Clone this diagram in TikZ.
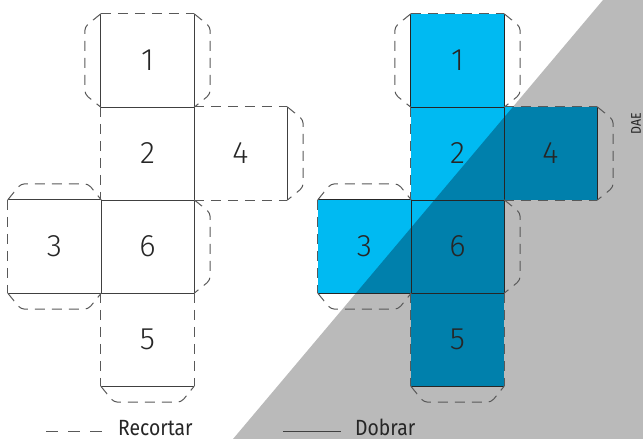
\documentclass[tikz,border=0pt]{standalone}
\usepackage{fontspec}
\setmainfont{Fira Sans}
\newfontfamily\digitfont{Fira Sans Light}
\newfontfamily\condfont{Fira Sans}[FakeStretch=0.88]
\usetikzlibrary{calc}
\definecolor{lblue}{RGB}{0,186,242}
\definecolor{dblue}{RGB}{0,128,172}
\definecolor{bggray}{RGB}{186,186,186}
\pgfdeclarelayer{bg}
\pgfsetlayers{bg,main}
\tikzset{
  sq/.style={minimum size=93pt, inner sep=0pt, font=\digitfont\fontsize{31}{31}\selectfont, text=black!85},
  fold/.style={draw=black!75, line width=1pt},
  foldR/.style={draw=black!85, line width=1pt},
  cut/.style={draw=black!65, line width=1pt, dash pattern=on 10pt off 7pt},
  tabline/.style={cut, rounded corners=4pt},
}
% tab on edge from #1 to #2, pushed out by vector #3
\newcommand{\gluetab}[3]{%
  \draw[tabline] (#1) -- ($(#1)!13pt!(#2)+#3$) -- ($(#2)!13pt!(#1)+#3$) -- (#2);}
\newcommand{\drawnet}[2]{% #1 prefix, #2 fold style
  % fold lines
  \draw[#2] (#1n1.south west) -- (#1n1.south east);
  \draw[#2] (#1n1.north west) -- (#1n1.south west);
  \draw[#2] (#1n1.north east) -- (#1n1.south east);
  \draw[#2] (#1n2.north east) -- (#1n2.south east);
  \draw[#2] (#1n2.south west) -- (#1n2.south east);
  \draw[#2] (#1n4.north east) -- (#1n4.south east);
  \draw[#2] (#1n3.north west) -- (#1n3.north east);
  \draw[#2] (#1n3.south west) -- (#1n3.south east);
  \draw[#2] (#1n3.north east) -- (#1n3.south east);
  \draw[#2] (#1n6.north east) -- (#1n6.south east);
  \draw[#2] (#1n6.south west) -- (#1n6.south east);
  \draw[#2] (#1n5.south west) -- (#1n5.south east);
  % cut lines
  \draw[cut] (#1n1.north west) -- (#1n1.north east);
  \draw[cut] (#1n2.north west) -- (#1n2.south west);
  \draw[cut] (#1n4.north west) -- (#1n4.north east);
  \draw[cut] (#1n4.south west) -- (#1n4.south east);
  \draw[cut] (#1n3.north west) -- (#1n3.south west);
  \draw[cut] (#1n5.north west) -- (#1n5.south west);
  \draw[cut] (#1n5.north east) -- (#1n5.south east);
  % tabs
  \gluetab{#1n1.north west}{#1n1.south west}{(-16,0)}
  \gluetab{#1n1.north east}{#1n1.south east}{(16,0)}
  \gluetab{#1n4.north east}{#1n4.south east}{(16,0)}
  \gluetab{#1n3.north west}{#1n3.north east}{(0,-16)}
  \gluetab{#1n3.south west}{#1n3.south east}{(0,16)}
  \gluetab{#1n6.north east}{#1n6.south east}{(16,0)}
  \gluetab{#1n5.south west}{#1n5.south east}{(0,16)}
}
\begin{document}
\begin{tikzpicture}[x=1pt,y=-1pt]
\useasboundingbox (0,0) rectangle (643,439);
% left net
\node[sq] (Ln1) at (147.5,60.5) {1};
\node[sq] (Ln2) at (147.5,153.5) {2};
\node[sq] (Ln4) at (240.5,153.5) {4};
\node[sq] (Ln3) at (54.5,246.5) {3};
\node[sq] (Ln6) at (147.5,246.5) {6};
\node[sq] (Ln5) at (147.5,339.5) {5};
% right net
\node[sq] (Rn1) at (457.5,60.5) {1};
\node[sq] (Rn2) at (457.5,153.5) {2};
\node[sq] (Rn4) at (550.5,153.5) {4};
\node[sq] (Rn3) at (364.5,246.5) {3};
\node[sq] (Rn6) at (457.5,246.5) {6};
\node[sq] (Rn5) at (457.5,339.5) {5};
\begin{pgfonlayer}{bg}
  % background triangle
  \fill[bggray] (603,0) -- (643,0) -- (643,439) -- (233,439) -- cycle;
  \foreach \s in {1,2,4,3,6,5} {
    \fill[lblue] (Rn\s.north west) rectangle (Rn\s.south east);
  }
  \begin{scope}
    \clip (603,0) -- (643,0) -- (643,439) -- (233,439) -- cycle;
    \foreach \s in {1,2,4,3,6,5} {
      \fill[dblue] (Rn\s.north west) rectangle (Rn\s.south east);
    }
  \end{scope}
\end{pgfonlayer}
\drawnet{L}{fold}
\drawnet{R}{foldR}
% DAE
\node[rotate=90, font=\condfont\fontsize{14}{14}\selectfont, text=black!85] (dae) at (636,124) {DAE};
% legend
\coordinate (c1) at (46,431);
\coordinate (c2) at (106,431);
\coordinate (f1) at (283,431);
\coordinate (f2) at (341,431);
\draw[draw=black!65, line width=1pt, dash pattern=on 12pt off 10pt] (c1) -- (c2);
\draw[fold] (f1) -- (f2);
\node[anchor=base west, inner sep=0pt, font=\condfont\fontsize{22}{22}\selectfont, text=black!85] (lc) at (118,435) {Recortar};
\node[anchor=base west, inner sep=0pt, font=\condfont\fontsize{22}{22}\selectfont, text=black!85] (lf) at (355,435) {Dobrar};
\end{tikzpicture}
\end{document}
